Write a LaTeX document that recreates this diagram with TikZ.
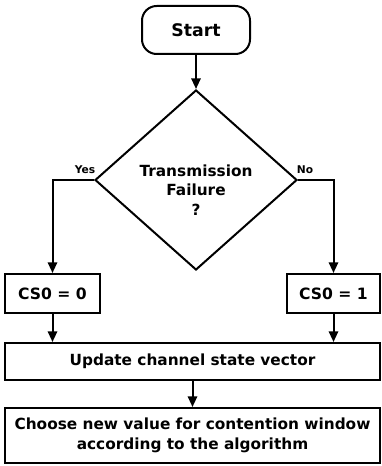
\documentclass[tikz,border=0pt]{standalone}
\usepackage{fontspec}
\setmainfont{DejaVu Sans}
\usetikzlibrary{shapes.geometric,arrows.meta}

\begin{document}
\begin{tikzpicture}[x=0.75pt, y=-0.75pt, line width=1.5pt, font=\bfseries,
  block/.style={draw, rectangle, inner sep=0pt, align=center},
  arr/.style={-{Triangle[length=8pt,width=7pt]}}]
\useasboundingbox (0,0) rectangle (381,466);

\node[block, rounded corners=11pt, minimum width=81pt, minimum height=36pt,
  font=\bfseries\fontsize{13}{15}\selectfont] (start) at (196,30) {Start};

\node[draw, diamond, minimum width=151.5pt, minimum height=135pt, inner sep=0pt] (dec) at (196,180) {};
\node[align=center, font=\bfseries\fontsize{11.5}{14.5}\selectfont] (dectext) at (196,190) {Transmission\\Failure\\?};

\node[font=\bfseries\fontsize{8}{9}\selectfont] (yes) at (85,170) {Yes};
\node[font=\bfseries\fontsize{8}{9}\selectfont] (no) at (305,170) {No};

\node[block, minimum width=71.25pt, minimum height=29.25pt,
  font=\bfseries\fontsize{11.7}{14}\selectfont] (cs0) at (52.5,293.5) {CS0 = 0};
\node[block, minimum width=69.75pt, minimum height=29.25pt,
  font=\bfseries\fontsize{11.7}{14}\selectfont] (cs1) at (333.5,293.5) {CS0 = 1};

\node[block, minimum width=281.25pt, minimum height=27.75pt,
  font=\bfseries\fontsize{11.5}{13.5}\selectfont] (update) at (192.5,361.5) {Update channel state vector};
\node[block, minimum width=281.25pt, minimum height=41.25pt,
  font=\bfseries\fontsize{11.5}{15}\selectfont] (choose) at (192.5,435.5)
  {Choose new value for contention window\\according to the algorithm};

% connectors
\draw[arr] (start) -- (dec);
\draw[arr] (dec.west) -| (cs0.north);
\draw[arr] (dec.east) -| (cs1.north);
\draw[arr] (cs0.south) -- (cs0.south |- update.north);
\draw[arr] (cs1.south) -- (cs1.south |- update.north);
\draw[arr] (update) -- (choose);

\end{tikzpicture}
\end{document}
